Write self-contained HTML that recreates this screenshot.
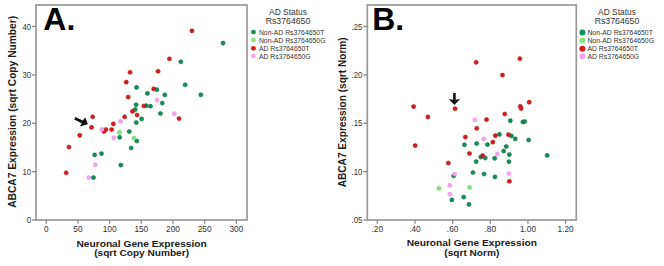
<!DOCTYPE html>
<html><head><meta charset="utf-8"><style>
html,body{margin:0;padding:0;background:#fff;}
body{width:664px;height:266px;overflow:hidden;}
svg{display:block;font-family:"Liberation Sans",sans-serif;}
.tk{font-size:8.3px;fill:#313131;}
.big{font-size:30px;font-weight:bold;fill:#000;}
.ti{font-size:10px;font-weight:bold;fill:#1a1a1a;}
.lt{font-size:8.4px;fill:#313131;}
.li{font-size:6.85px;fill:#313131;}
</style></head><body>
<svg width="664" height="266" viewBox="0 0 664 266">
<rect x="36" y="5.0" width="211" height="215.0" fill="none" stroke="#999999" stroke-width="1.7"/><line x1="32" y1="220" x2="36" y2="220" stroke="#8a8a8a" stroke-width="1.3"/><text transform="translate(31,223.1) scale(0.93,1.08)" text-anchor="end" class="tk">0</text><line x1="32" y1="171.6" x2="36" y2="171.6" stroke="#8a8a8a" stroke-width="1.3"/><text transform="translate(31,174.7) scale(0.93,1.08)" text-anchor="end" class="tk">10</text><line x1="32" y1="123.25" x2="36" y2="123.25" stroke="#8a8a8a" stroke-width="1.3"/><text transform="translate(31,126.35) scale(0.93,1.08)" text-anchor="end" class="tk">20</text><line x1="32" y1="74.9" x2="36" y2="74.9" stroke="#8a8a8a" stroke-width="1.3"/><text transform="translate(31,78.0) scale(0.93,1.08)" text-anchor="end" class="tk">30</text><line x1="32" y1="26.5" x2="36" y2="26.5" stroke="#8a8a8a" stroke-width="1.3"/><text transform="translate(31,29.6) scale(0.93,1.08)" text-anchor="end" class="tk">40</text><line x1="46.3" y1="220" x2="46.3" y2="223.8" stroke="#8a8a8a" stroke-width="1.3"/><text transform="translate(46.3,231.6) scale(1,1.08)" text-anchor="middle" class="tk">0</text><line x1="77.97" y1="220" x2="77.97" y2="223.8" stroke="#8a8a8a" stroke-width="1.3"/><text transform="translate(77.97,231.6) scale(1,1.08)" text-anchor="middle" class="tk">50</text><line x1="109.64" y1="220" x2="109.64" y2="223.8" stroke="#8a8a8a" stroke-width="1.3"/><text transform="translate(109.64,231.6) scale(1,1.08)" text-anchor="middle" class="tk">100</text><line x1="141.31" y1="220" x2="141.31" y2="223.8" stroke="#8a8a8a" stroke-width="1.3"/><text transform="translate(141.31,231.6) scale(1,1.08)" text-anchor="middle" class="tk">150</text><line x1="172.98000000000002" y1="220" x2="172.98000000000002" y2="223.8" stroke="#8a8a8a" stroke-width="1.3"/><text transform="translate(172.98000000000002,231.6) scale(1,1.08)" text-anchor="middle" class="tk">200</text><line x1="204.65000000000003" y1="220" x2="204.65000000000003" y2="223.8" stroke="#8a8a8a" stroke-width="1.3"/><text transform="translate(204.65000000000003,231.6) scale(1,1.08)" text-anchor="middle" class="tk">250</text><line x1="236.32" y1="220" x2="236.32" y2="223.8" stroke="#8a8a8a" stroke-width="1.3"/><text transform="translate(236.32,231.6) scale(1,1.08)" text-anchor="middle" class="tk">300</text><text x="43.3" y="29.8" class="big" style="font-size:32px">A.</text><text transform="translate(16.1,111.8) rotate(-90) scale(1.022,1)" text-anchor="middle" class="ti">ABCA7 Expression (sqrt Copy Number)</text><text transform="translate(141.6,246.6) scale(1.022,0.88)" text-anchor="middle" class="ti">Neuronal Gene Expression</text><text transform="translate(141.6,256.3) scale(1.01,0.91)" text-anchor="middle" class="ti">(sqrt Copy Number)</text><rect x="367.3" y="5.0" width="208.99999999999994" height="215.0" fill="none" stroke="#999999" stroke-width="1.7"/><line x1="363.3" y1="220" x2="367.3" y2="220" stroke="#8a8a8a" stroke-width="1.3"/><text transform="translate(362.3,223.1) scale(0.93,1.08)" text-anchor="end" class="tk">.05</text><line x1="363.3" y1="171.6" x2="367.3" y2="171.6" stroke="#8a8a8a" stroke-width="1.3"/><text transform="translate(362.3,174.7) scale(0.93,1.08)" text-anchor="end" class="tk">.10</text><line x1="363.3" y1="123.25" x2="367.3" y2="123.25" stroke="#8a8a8a" stroke-width="1.3"/><text transform="translate(362.3,126.35) scale(0.93,1.08)" text-anchor="end" class="tk">.15</text><line x1="363.3" y1="74.9" x2="367.3" y2="74.9" stroke="#8a8a8a" stroke-width="1.3"/><text transform="translate(362.3,78.0) scale(0.93,1.08)" text-anchor="end" class="tk">.20</text><line x1="363.3" y1="26.5" x2="367.3" y2="26.5" stroke="#8a8a8a" stroke-width="1.3"/><text transform="translate(362.3,29.6) scale(0.93,1.08)" text-anchor="end" class="tk">.25</text><line x1="377.3" y1="220" x2="377.3" y2="223.8" stroke="#8a8a8a" stroke-width="1.3"/><text transform="translate(377.3,231.6) scale(1,1.08)" text-anchor="middle" class="tk">.20</text><line x1="414.96000000000004" y1="220" x2="414.96000000000004" y2="223.8" stroke="#8a8a8a" stroke-width="1.3"/><text transform="translate(414.96000000000004,231.6) scale(1,1.08)" text-anchor="middle" class="tk">.40</text><line x1="452.62" y1="220" x2="452.62" y2="223.8" stroke="#8a8a8a" stroke-width="1.3"/><text transform="translate(452.62,231.6) scale(1,1.08)" text-anchor="middle" class="tk">.60</text><line x1="490.28" y1="220" x2="490.28" y2="223.8" stroke="#8a8a8a" stroke-width="1.3"/><text transform="translate(490.28,231.6) scale(1,1.08)" text-anchor="middle" class="tk">.80</text><line x1="527.94" y1="220" x2="527.94" y2="223.8" stroke="#8a8a8a" stroke-width="1.3"/><text transform="translate(527.94,231.6) scale(1,1.08)" text-anchor="middle" class="tk">1.00</text><line x1="565.6" y1="220" x2="565.6" y2="223.8" stroke="#8a8a8a" stroke-width="1.3"/><text transform="translate(565.6,231.6) scale(1,1.08)" text-anchor="middle" class="tk">1.20</text><text x="372.2" y="29.8" class="big" style="font-size:32px">B.</text><text transform="translate(345.7,112.3) rotate(-90) scale(1.012,1)" text-anchor="middle" class="ti">ABCA7 Expression (sqrt Norm)</text><text transform="translate(471.8,246.0) scale(1.022,0.88)" text-anchor="middle" class="ti">Neuronal Gene Expression</text><text transform="translate(471.8,255.8) scale(1.01,0.91)" text-anchor="middle" class="ti">(sqrt Norm)</text><circle cx="223.05" cy="43.10" r="2.1" fill="#138e57" stroke="#0d6b42" stroke-width="0.5"/><circle cx="180.85" cy="61.80" r="2.1" fill="#138e57" stroke="#0d6b42" stroke-width="0.5"/><circle cx="185.15" cy="84.80" r="2.1" fill="#138e57" stroke="#0d6b42" stroke-width="0.5"/><circle cx="200.85" cy="94.80" r="2.1" fill="#138e57" stroke="#0d6b42" stroke-width="0.5"/><circle cx="136.15" cy="104.80" r="2.1" fill="#138e57" stroke="#0d6b42" stroke-width="0.5"/><circle cx="135.15" cy="109.60" r="2.1" fill="#138e57" stroke="#0d6b42" stroke-width="0.5"/><circle cx="136.55" cy="87.40" r="2.1" fill="#138e57" stroke="#0d6b42" stroke-width="0.5"/><circle cx="147.45" cy="93.40" r="2.1" fill="#138e57" stroke="#0d6b42" stroke-width="0.5"/><circle cx="156.85" cy="89.70" r="2.1" fill="#138e57" stroke="#0d6b42" stroke-width="0.5"/><circle cx="164.85" cy="94.90" r="2.1" fill="#138e57" stroke="#0d6b42" stroke-width="0.5"/><circle cx="162.25" cy="103.10" r="2.1" fill="#138e57" stroke="#0d6b42" stroke-width="0.5"/><circle cx="150.45" cy="106.20" r="2.1" fill="#138e57" stroke="#0d6b42" stroke-width="0.5"/><circle cx="146.15" cy="105.70" r="2.1" fill="#138e57" stroke="#0d6b42" stroke-width="0.5"/><circle cx="160.45" cy="113.50" r="2.1" fill="#138e57" stroke="#0d6b42" stroke-width="0.5"/><circle cx="141.65" cy="118.90" r="2.1" fill="#138e57" stroke="#0d6b42" stroke-width="0.5"/><circle cx="136.25" cy="122.60" r="2.1" fill="#138e57" stroke="#0d6b42" stroke-width="0.5"/><circle cx="129.25" cy="131.60" r="2.1" fill="#138e57" stroke="#0d6b42" stroke-width="0.5"/><circle cx="119.65" cy="137.30" r="2.1" fill="#138e57" stroke="#0d6b42" stroke-width="0.5"/><circle cx="136.85" cy="141.00" r="2.1" fill="#138e57" stroke="#0d6b42" stroke-width="0.5"/><circle cx="131.15" cy="148.00" r="2.1" fill="#138e57" stroke="#0d6b42" stroke-width="0.5"/><circle cx="120.85" cy="165.10" r="2.1" fill="#138e57" stroke="#0d6b42" stroke-width="0.5"/><circle cx="101.45" cy="153.60" r="2.1" fill="#138e57" stroke="#0d6b42" stroke-width="0.5"/><circle cx="94.65" cy="154.90" r="2.1" fill="#138e57" stroke="#0d6b42" stroke-width="0.5"/><circle cx="93.45" cy="177.60" r="2.1" fill="#138e57" stroke="#0d6b42" stroke-width="0.5"/><circle cx="119.35" cy="132.40" r="2.1" fill="#80e480" stroke="#62c862" stroke-width="0.5"/><circle cx="133.95" cy="138.10" r="2.1" fill="#80e480" stroke="#62c862" stroke-width="0.5"/><circle cx="191.95" cy="30.90" r="2.1" fill="#d61c1c" stroke="#a51616" stroke-width="0.5"/><circle cx="169.45" cy="58.80" r="2.1" fill="#d61c1c" stroke="#a51616" stroke-width="0.5"/><circle cx="158.05" cy="71.30" r="2.1" fill="#d61c1c" stroke="#a51616" stroke-width="0.5"/><circle cx="130.05" cy="72.30" r="2.1" fill="#d61c1c" stroke="#a51616" stroke-width="0.5"/><circle cx="126.25" cy="82.20" r="2.1" fill="#d61c1c" stroke="#a51616" stroke-width="0.5"/><circle cx="153.65" cy="88.80" r="2.1" fill="#d61c1c" stroke="#a51616" stroke-width="0.5"/><circle cx="128.15" cy="97.10" r="2.1" fill="#d61c1c" stroke="#a51616" stroke-width="0.5"/><circle cx="143.85" cy="106.00" r="2.1" fill="#d61c1c" stroke="#a51616" stroke-width="0.5"/><circle cx="132.45" cy="111.40" r="2.1" fill="#d61c1c" stroke="#a51616" stroke-width="0.5"/><circle cx="137.05" cy="115.00" r="2.1" fill="#d61c1c" stroke="#a51616" stroke-width="0.5"/><circle cx="124.65" cy="116.90" r="2.1" fill="#d61c1c" stroke="#a51616" stroke-width="0.5"/><circle cx="113.35" cy="123.90" r="2.1" fill="#d61c1c" stroke="#a51616" stroke-width="0.5"/><circle cx="111.65" cy="129.60" r="2.1" fill="#d61c1c" stroke="#a51616" stroke-width="0.5"/><circle cx="105.95" cy="129.50" r="2.1" fill="#d61c1c" stroke="#a51616" stroke-width="0.5"/><circle cx="103.95" cy="131.40" r="2.1" fill="#d61c1c" stroke="#a51616" stroke-width="0.5"/><circle cx="92.65" cy="116.80" r="2.1" fill="#d61c1c" stroke="#a51616" stroke-width="0.5"/><circle cx="91.55" cy="127.40" r="2.1" fill="#d61c1c" stroke="#a51616" stroke-width="0.5"/><circle cx="79.75" cy="135.30" r="2.1" fill="#d61c1c" stroke="#a51616" stroke-width="0.5"/><circle cx="68.95" cy="147.10" r="2.1" fill="#d61c1c" stroke="#a51616" stroke-width="0.5"/><circle cx="66.15" cy="172.80" r="2.1" fill="#d61c1c" stroke="#a51616" stroke-width="0.5"/><circle cx="179.05" cy="118.60" r="2.1" fill="#d61c1c" stroke="#a51616" stroke-width="0.5"/><circle cx="157.15" cy="100.10" r="2.1" fill="#f3a6ee" stroke="#de92de" stroke-width="0.5"/><circle cx="174.35" cy="113.70" r="2.1" fill="#f3a6ee" stroke="#de92de" stroke-width="0.5"/><circle cx="120.55" cy="121.40" r="2.1" fill="#f3a6ee" stroke="#de92de" stroke-width="0.5"/><circle cx="101.95" cy="129.40" r="2.1" fill="#f3a6ee" stroke="#de92de" stroke-width="0.5"/><circle cx="113.75" cy="137.80" r="2.1" fill="#f3a6ee" stroke="#de92de" stroke-width="0.5"/><circle cx="95.25" cy="164.80" r="2.1" fill="#f3a6ee" stroke="#de92de" stroke-width="0.5"/><circle cx="88.75" cy="177.60" r="2.1" fill="#f3a6ee" stroke="#de92de" stroke-width="0.5"/><circle cx="510.35" cy="120.70" r="2.1" fill="#138e57" stroke="#0d6b42" stroke-width="0.5"/><circle cx="522.85" cy="122.00" r="2.1" fill="#138e57" stroke="#0d6b42" stroke-width="0.5"/><circle cx="524.65" cy="121.50" r="2.1" fill="#138e57" stroke="#0d6b42" stroke-width="0.5"/><circle cx="499.45" cy="134.40" r="2.1" fill="#138e57" stroke="#0d6b42" stroke-width="0.5"/><circle cx="511.45" cy="135.90" r="2.1" fill="#138e57" stroke="#0d6b42" stroke-width="0.5"/><circle cx="515.25" cy="138.90" r="2.1" fill="#138e57" stroke="#0d6b42" stroke-width="0.5"/><circle cx="528.65" cy="140.00" r="2.1" fill="#138e57" stroke="#0d6b42" stroke-width="0.5"/><circle cx="487.45" cy="144.60" r="2.1" fill="#138e57" stroke="#0d6b42" stroke-width="0.5"/><circle cx="506.25" cy="146.50" r="2.1" fill="#138e57" stroke="#0d6b42" stroke-width="0.5"/><circle cx="464.45" cy="144.80" r="2.1" fill="#138e57" stroke="#0d6b42" stroke-width="0.5"/><circle cx="476.65" cy="143.50" r="2.1" fill="#138e57" stroke="#0d6b42" stroke-width="0.5"/><circle cx="503.65" cy="151.10" r="2.1" fill="#138e57" stroke="#0d6b42" stroke-width="0.5"/><circle cx="509.35" cy="154.60" r="2.1" fill="#138e57" stroke="#0d6b42" stroke-width="0.5"/><circle cx="494.65" cy="158.30" r="2.1" fill="#138e57" stroke="#0d6b42" stroke-width="0.5"/><circle cx="508.95" cy="161.70" r="2.1" fill="#138e57" stroke="#0d6b42" stroke-width="0.5"/><circle cx="480.75" cy="157.10" r="2.1" fill="#138e57" stroke="#0d6b42" stroke-width="0.5"/><circle cx="485.25" cy="158.00" r="2.1" fill="#138e57" stroke="#0d6b42" stroke-width="0.5"/><circle cx="476.15" cy="161.70" r="2.1" fill="#138e57" stroke="#0d6b42" stroke-width="0.5"/><circle cx="472.95" cy="172.50" r="2.1" fill="#138e57" stroke="#0d6b42" stroke-width="0.5"/><circle cx="484.05" cy="174.00" r="2.1" fill="#138e57" stroke="#0d6b42" stroke-width="0.5"/><circle cx="494.95" cy="176.90" r="2.1" fill="#138e57" stroke="#0d6b42" stroke-width="0.5"/><circle cx="547.15" cy="155.40" r="2.1" fill="#138e57" stroke="#0d6b42" stroke-width="0.5"/><circle cx="453.65" cy="175.90" r="2.1" fill="#138e57" stroke="#0d6b42" stroke-width="0.5"/><circle cx="451.85" cy="199.90" r="2.1" fill="#138e57" stroke="#0d6b42" stroke-width="0.5"/><circle cx="463.75" cy="197.10" r="2.1" fill="#138e57" stroke="#0d6b42" stroke-width="0.5"/><circle cx="468.95" cy="204.40" r="2.1" fill="#138e57" stroke="#0d6b42" stroke-width="0.5"/><circle cx="438.85" cy="188.30" r="2.1" fill="#80e480" stroke="#62c862" stroke-width="0.5"/><circle cx="469.65" cy="187.50" r="2.1" fill="#80e480" stroke="#62c862" stroke-width="0.5"/><circle cx="476.15" cy="62.30" r="2.1" fill="#d61c1c" stroke="#a51616" stroke-width="0.5"/><circle cx="519.85" cy="58.70" r="2.1" fill="#d61c1c" stroke="#a51616" stroke-width="0.5"/><circle cx="502.45" cy="75.10" r="2.1" fill="#d61c1c" stroke="#a51616" stroke-width="0.5"/><circle cx="413.65" cy="106.60" r="2.1" fill="#d61c1c" stroke="#a51616" stroke-width="0.5"/><circle cx="427.95" cy="116.90" r="2.1" fill="#d61c1c" stroke="#a51616" stroke-width="0.5"/><circle cx="455.05" cy="108.70" r="2.1" fill="#d61c1c" stroke="#a51616" stroke-width="0.5"/><circle cx="529.15" cy="102.20" r="2.1" fill="#d61c1c" stroke="#a51616" stroke-width="0.5"/><circle cx="520.35" cy="106.30" r="2.1" fill="#d61c1c" stroke="#a51616" stroke-width="0.5"/><circle cx="521.15" cy="108.60" r="2.1" fill="#d61c1c" stroke="#a51616" stroke-width="0.5"/><circle cx="504.75" cy="114.00" r="2.1" fill="#d61c1c" stroke="#a51616" stroke-width="0.5"/><circle cx="486.55" cy="119.60" r="2.1" fill="#d61c1c" stroke="#a51616" stroke-width="0.5"/><circle cx="476.75" cy="128.30" r="2.1" fill="#d61c1c" stroke="#a51616" stroke-width="0.5"/><circle cx="465.35" cy="137.10" r="2.1" fill="#d61c1c" stroke="#a51616" stroke-width="0.5"/><circle cx="495.35" cy="135.70" r="2.1" fill="#d61c1c" stroke="#a51616" stroke-width="0.5"/><circle cx="508.45" cy="134.70" r="2.1" fill="#d61c1c" stroke="#a51616" stroke-width="0.5"/><circle cx="492.85" cy="142.20" r="2.1" fill="#d61c1c" stroke="#a51616" stroke-width="0.5"/><circle cx="469.45" cy="153.50" r="2.1" fill="#d61c1c" stroke="#a51616" stroke-width="0.5"/><circle cx="482.65" cy="155.60" r="2.1" fill="#d61c1c" stroke="#a51616" stroke-width="0.5"/><circle cx="415.15" cy="145.60" r="2.1" fill="#d61c1c" stroke="#a51616" stroke-width="0.5"/><circle cx="448.35" cy="163.10" r="2.1" fill="#d61c1c" stroke="#a51616" stroke-width="0.5"/><circle cx="509.35" cy="181.30" r="2.1" fill="#d61c1c" stroke="#a51616" stroke-width="0.5"/><circle cx="474.85" cy="120.00" r="2.1" fill="#f3a6ee" stroke="#de92de" stroke-width="0.5"/><circle cx="483.75" cy="138.90" r="2.1" fill="#f3a6ee" stroke="#de92de" stroke-width="0.5"/><circle cx="497.35" cy="154.10" r="2.1" fill="#f3a6ee" stroke="#de92de" stroke-width="0.5"/><circle cx="508.95" cy="173.60" r="2.1" fill="#f3a6ee" stroke="#de92de" stroke-width="0.5"/><circle cx="454.65" cy="174.10" r="2.1" fill="#f3a6ee" stroke="#de92de" stroke-width="0.5"/><circle cx="449.85" cy="185.30" r="2.1" fill="#f3a6ee" stroke="#de92de" stroke-width="0.5"/><circle cx="449.85" cy="194.20" r="2.1" fill="#f3a6ee" stroke="#de92de" stroke-width="0.5"/><g fill="#111" stroke="none"><path d="M75.4,116.9 L82.7,120.5 L85.3,117.4 L87.9,124.3 L79.8,126.5 L81.7,123.2 L74.2,119.6 Z"/></g><g fill="#111" stroke="none"><path d="M453.1,92.9 L455.7,92.9 L455.7,99.7 L460.0,99.0 L454.4,105.0 L448.7,99.0 L453.1,99.7 Z"/></g><text transform="translate(288,15.0) scale(1,1.07)" text-anchor="middle" class="lt">AD Status</text><text transform="translate(288,23.6) scale(1.04,1.07)" text-anchor="middle" class="lt">Rs3764650</text><circle cx="253.4" cy="32.1" r="2.4" fill="#138e57"/><text x="258.9" y="34.7" class="li">Non-AD Rs3764650T</text><circle cx="253.4" cy="40.1" r="2.4" fill="#80e480"/><text x="258.9" y="42.7" class="li">Non-AD Rs3764650G</text><circle cx="253.4" cy="48.3" r="2.4" fill="#d61c1c"/><text x="258.9" y="50.9" class="li">AD Rs3764650T</text><circle cx="253.4" cy="55.9" r="2.4" fill="#f3a6ee"/><text x="258.9" y="58.5" class="li">AD Rs3764650G</text><text transform="translate(617,15.0) scale(1,1.07)" text-anchor="middle" class="lt">AD Status</text><text transform="translate(617,23.6) scale(1.04,1.07)" text-anchor="middle" class="lt">Rs3764650</text><circle cx="582.4" cy="32.45" r="3.0" fill="#138e57"/><text x="587.4" y="35.050000000000004" class="li">Non-AD Rs3764650T</text><circle cx="582.4" cy="40.45" r="3.0" fill="#80e480"/><text x="587.4" y="43.050000000000004" class="li">Non-AD Rs3764650G</text><circle cx="582.4" cy="48.65" r="3.0" fill="#d61c1c"/><text x="587.4" y="51.25" class="li">AD Rs3764650T</text><circle cx="582.4" cy="56.25" r="3.0" fill="#f3a6ee"/><text x="587.4" y="58.85" class="li">AD Rs3764650G</text>
</svg>
</body></html>
